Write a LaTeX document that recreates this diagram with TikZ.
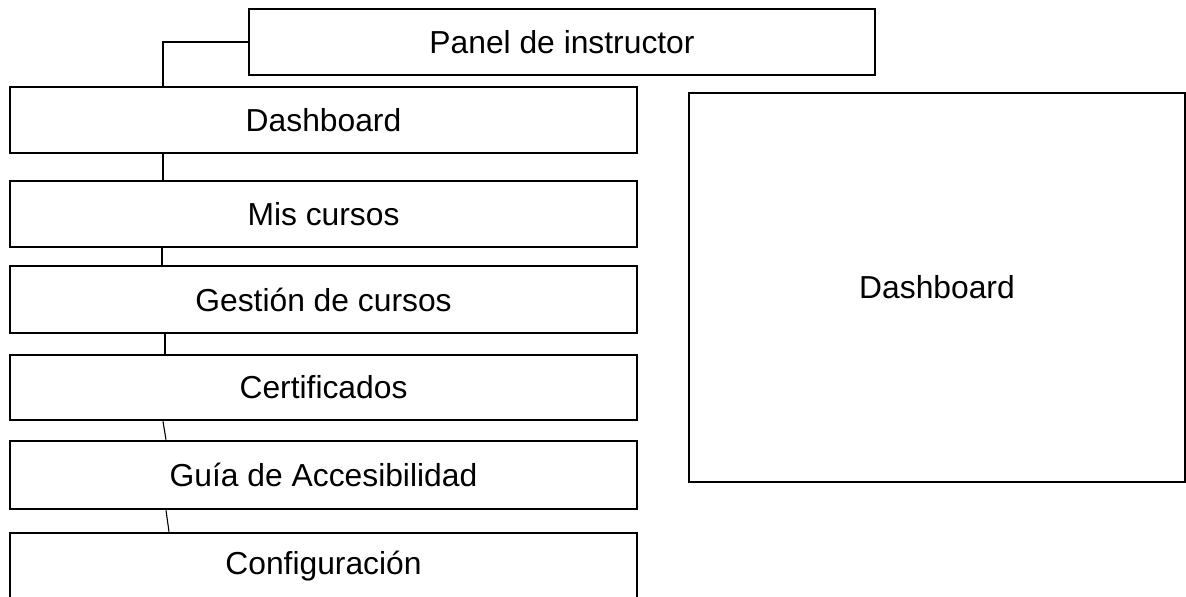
\documentclass[tikz,border=0pt]{standalone}
\usepackage{fontspec}
\setmainfont{Liberation Sans}
\usepackage{tikz}
\tikzset{
	menubox/.style={rectangle,draw=black,line width=2.6pt,inner sep=0pt,minimum width=627pt,minimum height=66pt},
	viewbox/.style={rectangle,draw=black,line width=2.3pt,inner sep=0pt},
	link/.style={draw=black,line width=1.1pt}
}

\begin{document}
\begin{tikzpicture}[x=1pt,y=-1pt,font=\fontsize{31.8}{38}\selectfont]
	\useasboundingbox (0,0) rectangle (1186,597);
	\path (562,42) node(panel)[menubox,minimum width=626pt]{Panel de instructor}
	(323.5,120) node(dash)[menubox]{Dashboard}
	(323.5,214) node(mis)[menubox]{Mis cursos}
	(323.5,299.5) node(gest)[menubox,minimum height=67pt]{Gesti\'on de cursos}
	(323.5,387.5) node(cert)[menubox,minimum height=65pt]{Certificados}
	(323.5,475) node(guia)[menubox,minimum height=68pt]{Gu\'ia de Accesibilidad}
	(323.5,566) node(conf)[menubox]{Configuraci\'on}
	(937,287.5) node(vista)[viewbox,minimum width=496pt,minimum height=389pt]{Dashboard};
	%\coordinate (k) at (163,42);
	\coordinate (k) at (163,42);
	\draw[link](panel.west)--(k)--(k |- dash.north);
	\draw[link]([xshift=-160.5pt]dash.south)--([xshift=-160.5pt]mis.north);
	\draw[link]([xshift=-161.5pt]mis.south)--([xshift=-161.5pt]gest.north);
	\draw[link]([xshift=-158.5pt]gest.south)--([xshift=-158.5pt]cert.north);
	\draw[link]([xshift=-160.5pt]cert.south)--([xshift=-157.5pt]guia.north);
	\draw[link]([xshift=-157.5pt]guia.south)--([xshift=-154.5pt]conf.north);
\end{tikzpicture}
\end{document}
